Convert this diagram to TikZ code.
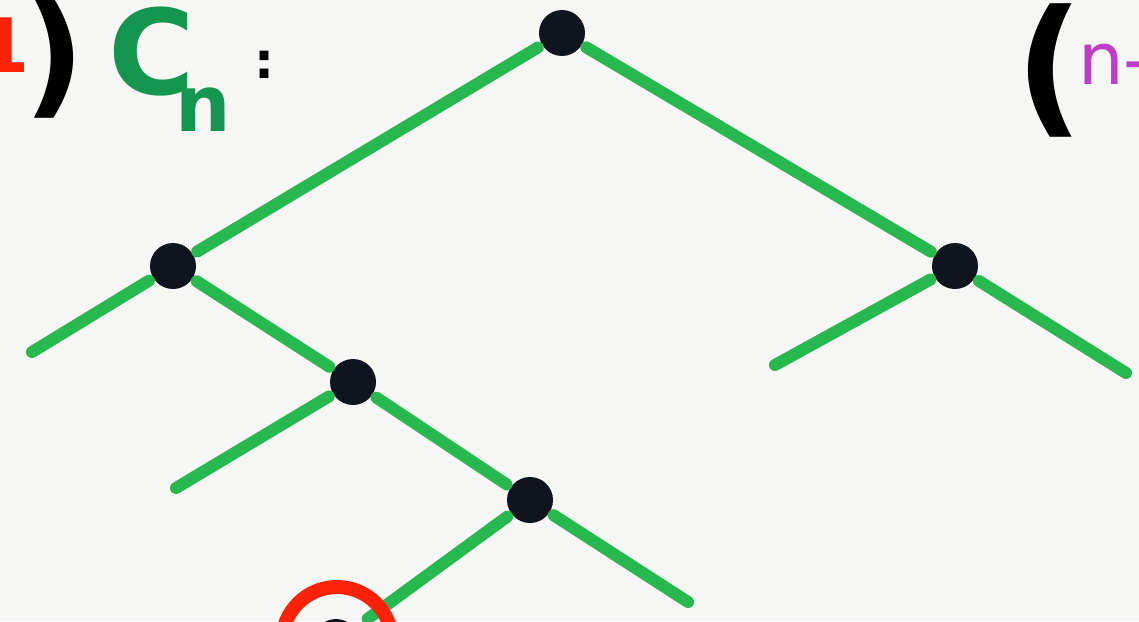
\documentclass[tikz,border=0pt]{standalone}
\usepackage{fontspec}
\setmainfont{DejaVu Sans}
\begin{document}
\begin{tikzpicture}[x=1pt,y=-1pt,
  dot/.style={circle,fill=dotc,draw=none,minimum size=46pt,inner sep=0pt},
  branch/.style={draw=greenc,line width=12pt,line cap=round},
  hand/.style={inner sep=0pt,anchor=center}]
\definecolor{greenc}{RGB}{40,184,80}
\definecolor{dotc}{RGB}{16,20,30}
\definecolor{bg}{RGB}{246,246,244}
\definecolor{redc}{RGB}{250,35,10}
\definecolor{purp}{RGB}{190,60,200}
\definecolor{cgreen}{RGB}{20,150,80}
\useasboundingbox (0,0) rectangle (1139,621);
\clip (0,0) rectangle (1139,621);
\fill[bg] (0,0) rectangle (1139,621);
% text fragments
\node[hand,text=redc] (one) at (4,45) {\fontsize{75}{75}\selectfont\bfseries 1};
\node[hand,text=black] (rp) at (54,58) {\fontsize{135}{135}\selectfont\bfseries )};
\node[hand,text=cgreen] (cc) at (152,52) {\fontsize{118}{118}\selectfont\bfseries C};
\node[hand,text=cgreen] (nn) at (203,110) {\fontsize{78}{78}\selectfont\bfseries n};
\node[hand,text=black] (colon) at (264,65) {\fontsize{50}{50}\selectfont\bfseries :};
\node[hand,text=black] (lp) at (1050,70) {\fontsize{150}{150}\selectfont\bfseries (};
\node[hand,text=purp,anchor=west] (nm) at (1078,64) {\fontsize{72}{72}\selectfont n-};
% tree
\node[dot] (root) at (562,33) {};
\node[dot] (L) at (173,266) {};
\node[dot] (R) at (955,266) {};
\node[dot] (LR) at (353,382) {};
\node[dot] (LRR) at (530,500) {};
\node[dot] (B) at (336,642) {};
\coordinate (LL) at (32,352);
\coordinate (RL) at (775,365);
\coordinate (RR) at (1126,373);
\coordinate (LRL) at (176,488);
\coordinate (LRRR) at (688,602);
\draw[branch,shorten <=5pt,shorten >=5pt] (root) -- (L);
\draw[branch,shorten <=5pt,shorten >=5pt] (root) -- (R);
\draw[branch,shorten <=5pt] (L) -- (LL);
\draw[branch,shorten <=5pt,shorten >=5pt] (L) -- (LR);
\draw[branch,shorten <=5pt] (R) -- (RL);
\draw[branch,shorten <=5pt] (R) -- (RR);
\draw[branch,shorten <=5pt] (LR) -- (LRL);
\draw[branch,shorten <=5pt,shorten >=5pt] (LR) -- (LRR);
\draw[branch,shorten <=5pt,shorten >=16pt] (LRR) -- (B);
\draw[branch,shorten <=5pt] (LRR) -- (LRRR);
\node[circle,draw=redc,line width=14pt,minimum size=110pt,inner sep=0pt] (ring) at (337,642) {};
\end{tikzpicture}
\end{document}
